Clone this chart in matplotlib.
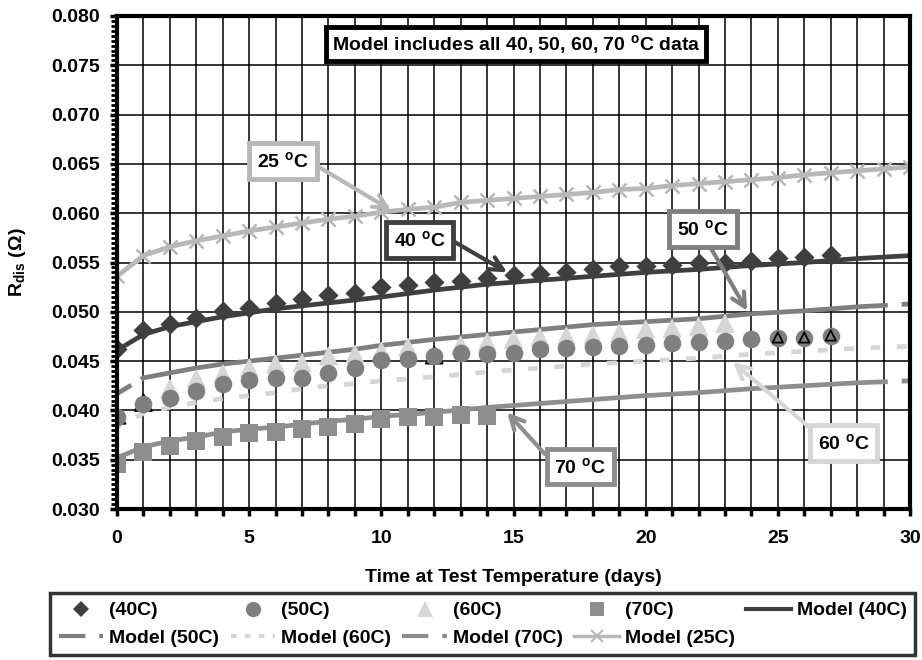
import matplotlib
matplotlib.use("Agg")
import matplotlib.pyplot as plt
from matplotlib.ticker import MultipleLocator, FuncFormatter
from matplotlib.lines import Line2D
import numpy as np

plt.rcParams['font.family'] = ['Liberation Sans', 'DejaVu Sans']
plt.rcParams['font.weight'] = 'bold'
plt.rcParams['mathtext.fontset'] = 'custom'
plt.rcParams['mathtext.rm'] = 'Liberation Sans:bold'
plt.rcParams['mathtext.bf'] = 'Liberation Sans:bold'
plt.rcParams['mathtext.it'] = 'Liberation Sans:bold'
plt.rcParams['lines.scale_dashes'] = False

FS = 14

# ---------------- data ----------------
days_40 = list(range(0, 28))
r_40 = [0.0462, 0.0482, 0.0488, 0.0494, 0.0501, 0.0504, 0.0509, 0.0513, 0.0517, 0.0519,
        0.0525, 0.0527, 0.0530, 0.0531, 0.0534, 0.0537, 0.0538, 0.0540, 0.0543, 0.0546,
        0.0546, 0.0547, 0.0550, 0.0549, 0.0552, 0.0555, 0.0556, 0.0558]

days_50 = list(range(0, 28))
r_50 = [0.0393, 0.0406, 0.0413, 0.0420, 0.0427, 0.0431, 0.0433, 0.0433, 0.0438, 0.0443,
        0.0451, 0.0452, 0.0455, 0.0458, 0.0457, 0.0458, 0.0462, 0.0463, 0.0464, 0.0465,
        0.0466, 0.0468, 0.0469, 0.0470, 0.0472, 0.0473, 0.0473, 0.0475]

days_60 = [0, 1, 2, 3, 4, 5, 6, 7, 8, 9, 10, 11, 12, 13, 14, 15, 16, 17, 18, 19, 20, 21, 22, 23, 25, 26, 27]
r_60 = [0.0395, 0.0408, 0.0422, 0.0432, 0.0437, 0.0443, 0.0447, 0.0448, 0.0455, 0.0457,
        0.0460, 0.0464, 0.0456, 0.0466, 0.0469, 0.0472, 0.0474, 0.0475, 0.0476, 0.0478,
        0.0482, 0.0483, 0.0485, 0.0488, 0.0474, 0.0474, 0.0476]
outlined_60 = [0, 1, 12]   # triangles drawn with black edge
hidden_60 = [25, 26, 27]   # triangles mostly hidden behind circles

days_70 = list(range(0, 15))
r_70 = [0.0346, 0.0358, 0.0364, 0.0369, 0.0373, 0.0377, 0.0378, 0.0381, 0.0383, 0.0386,
        0.0391, 0.0393, 0.0393, 0.0395, 0.0394]

model_days = [0, 1, 2, 3, 4, 5, 6, 7, 8, 9, 10, 12, 14, 16, 18, 20, 22, 24, 26, 28, 30]
model_40 = [0.0461, 0.0477, 0.0485, 0.0490, 0.0495, 0.0499, 0.0503, 0.0506, 0.0509, 0.0512,
            0.0515, 0.0522, 0.0528, 0.0532, 0.0536, 0.0540, 0.0543, 0.0547, 0.0550, 0.0554, 0.0557]
model_50 = [0.0417, 0.0433, 0.0438, 0.0443, 0.0447, 0.0450, 0.0453, 0.0456, 0.0459, 0.0462,
            0.0466, 0.0472, 0.0477, 0.0482, 0.0487, 0.0490, 0.0493, 0.0498, 0.0501, 0.0505, 0.0508]
model_60 = [0.0383, 0.0397, 0.0403, 0.0408, 0.0412, 0.0415, 0.0418, 0.0422, 0.0425, 0.0427,
            0.0430, 0.0434, 0.0439, 0.0443, 0.0447, 0.0450, 0.0453, 0.0457, 0.0460, 0.0463, 0.0465]
model_70 = [0.0352, 0.0363, 0.0369, 0.0373, 0.0378, 0.0381, 0.0383, 0.0386, 0.0389, 0.0391,
            0.0394, 0.0398, 0.0403, 0.0407, 0.0411, 0.0415, 0.0418, 0.0422, 0.0425, 0.0428, 0.0430]

days_25 = list(range(0, 31))
model_25 = [0.0536, 0.0557, 0.0566, 0.0572, 0.0577, 0.0582, 0.0586, 0.0590, 0.0594, 0.0597,
            0.0601, 0.0604, 0.0606, 0.0611, 0.0613, 0.0615, 0.0617, 0.0619, 0.0621, 0.0624,
            0.0625, 0.0628, 0.0630, 0.0632, 0.0634, 0.0636, 0.0639, 0.0641, 0.0643, 0.0645, 0.0647]

legend_labels = ['(40C)', '(50C)', '(60C)', '(70C)', 'Model (40C)',
                 'Model (50C)', 'Model (60C)', 'Model (70C)', 'Model (25C)']

# ---------------- colours ----------------
c40 = '#3f3f3f'
c50 = '#7f7f7f'
c60 = '#d6d6d6'
c70 = '#8e8e8e'
c25 = '#b8b8b8'

fig = plt.figure(figsize=(9.22, 6.6), dpi=100)
ax = fig.add_axes([117/922, 1-509/660, (910-117)/922, (509-16)/660])

ax.set_xlim(0, 30)
ax.set_ylim(0.030, 0.080)

# grid
ax.xaxis.set_major_locator(MultipleLocator(1))
ax.yaxis.set_major_locator(MultipleLocator(0.005))
ax.yaxis.set_minor_locator(MultipleLocator(0.0005))
ax.grid(True, which='major', color='black', lw=1.1, zorder=0)
ax.set_axisbelow(True)

# model lines
ax.plot(model_days, model_40, color=c40, lw=3.4, zorder=3, solid_capstyle='butt')
l50, = ax.plot(model_days, model_50, color=c50, lw=3.4, zorder=3)
l50.set_linestyle((0, [12, 8, 541, 10, 14, 200]))
l60, = ax.plot(model_days, model_60, color=c60, lw=3.4, zorder=3)
l60.set_linestyle((3.5, [7, 12]))
l70, = ax.plot(model_days, model_70, color=c70, lw=3.4, zorder=3)
l70.set_linestyle((0, [559, 10, 14, 200]))
ax.plot(days_25, model_25, color=c25, lw=3.4, marker='x', ms=10, mew=1.8, zorder=3)

# data markers
ax.scatter(days_40, r_40, marker='D', s=105, color=c40, zorder=5, linewidths=0)
vis_d = [d for d in days_60 if d not in hidden_60]
vis_v = [r_60[days_60.index(d)] for d in vis_d]
tri_edge = ['black' if d in outlined_60 else c60 for d in vis_d]
ax.scatter(vis_d, vis_v, marker='^', s=150, color=c60, edgecolors=tri_edge, linewidths=1.2, zorder=5)
ax.scatter(days_50, r_50, marker='o', s=160, color=c50, zorder=6, linewidths=0)
hid_v = [r_60[days_60.index(d)] for d in hidden_60]
ax.scatter(hidden_60, hid_v, marker='^', s=55, facecolors='none', edgecolors='black', linewidths=1.3, zorder=7)
ax.scatter(days_70, r_70, marker='s', s=150, color=c70, zorder=5, linewidths=0)

# spines and ticks
for s in ax.spines.values():
    s.set_linewidth(3)
    s.set_zorder(8)
ax.tick_params(axis='x', which='major', direction='out', length=5, width=2.5, labelsize=FS, pad=10)
ax.tick_params(axis='y', which='major', direction='out', length=5, width=2.5, labelsize=FS, pad=7)
ax.tick_params(axis='y', which='minor', direction='out', length=4, width=2.0)
ax.xaxis.set_major_formatter(FuncFormatter(lambda v, p: f"{int(round(v))}" if int(round(v)) % 5 == 0 else ""))
ax.yaxis.set_major_formatter(FuncFormatter(lambda v, p: f"{v:.3f}"))
for lab in ax.get_xticklabels() + ax.get_yticklabels():
    lab.set_fontweight('bold')

ax.set_xlabel('Time at Test Temperature (days)', fontsize=FS, fontweight='bold', labelpad=16)
ax.set_ylabel(r'R$_{\mathbf{dis}}$ (Ω)', fontsize=FS, fontweight='bold')
ax.yaxis.set_label_coords(-(117-28)/793, 0.5)

# title box
ax.text(15.1, 0.07716, r'Model includes all 40, 50, 60, 70 $^{\mathbf{o}}$C data', ha='center', va='center',
        fontsize=FS, fontweight='bold', zorder=10,
        bbox=dict(boxstyle='square,pad=0.3', fc='white', ec='black', lw=3.5))

def label(txt, xy, xytext, col, relpos):
    ax.annotate(txt, xy=xy, xytext=xytext, ha='center', va='center', fontsize=FS, fontweight='bold',
                zorder=10,
                bbox=dict(boxstyle='square,pad=0.4', fc='white', ec=col, lw=3.5),
                arrowprops=dict(arrowstyle='->,head_length=0.7,head_width=0.35', color=col, lw=3,
                                shrinkA=0, shrinkB=0, relpos=relpos))

deg = r'$^{\mathbf{o}}$C'
label('25 ' + deg, (10.37, 0.0603), (6.28, 0.0653), c25, (1, 0.5))
label('40 ' + deg, (14.76, 0.0540), (11.46, 0.0573), c40, (1, 0.65))
label('50 ' + deg, (23.84, 0.0501), (22.17, 0.0584), c50, (0.55, 0))
label('60 ' + deg, (23.30, 0.0449), (27.50, 0.0367), c60, (0, 0.9))
label('70 ' + deg, (14.76, 0.0398), (17.52, 0.0343), c70, (0, 0.6))

# legend
h40 = Line2D([], [], ls='none', marker='D', ms=8, color=c40, mew=0)
h50 = Line2D([], [], ls='none', marker='o', ms=11, color=c50, mew=0)
h60 = Line2D([], [], ls='none', marker='^', ms=11, color=c60, mew=0)
h70 = Line2D([], [], ls='none', marker='s', ms=10, color=c70, mew=0)
hm40 = Line2D([], [], color=c40, lw=3)
hm50 = Line2D([], [], color=c50, lw=3, dashes=[19, 10, 5, 10])
hm60 = Line2D([], [], color=c60, lw=3, dashes=[4, 6])
hm70 = Line2D([], [], color=c70, lw=3, dashes=[19, 10, 5, 10])
hm25 = Line2D([], [], color=c25, lw=2.5, marker='x', ms=9, mew=1.5)
handles = [h40, hm50, h50, hm60, h60, hm70, h70, hm25, hm40]
labels = [legend_labels[0], legend_labels[5], legend_labels[1], legend_labels[6], legend_labels[2],
          legend_labels[7], legend_labels[3], legend_labels[8], legend_labels[4]]
leg = fig.legend(handles, labels, ncol=5, loc='upper left', bbox_to_anchor=(50/922, 1-593/660),
                 fontsize=FS, frameon=True, fancybox=False, edgecolor='black',
                 handlelength=2.3, handletextpad=0.3, columnspacing=0.58, labelspacing=0.5,
                 borderpad=0.45, borderaxespad=0)
leg.get_frame().set_linewidth(2.5)
for t in leg.get_texts():
    t.set_fontweight('bold')

fig.savefig('out.png', dpi=100)
